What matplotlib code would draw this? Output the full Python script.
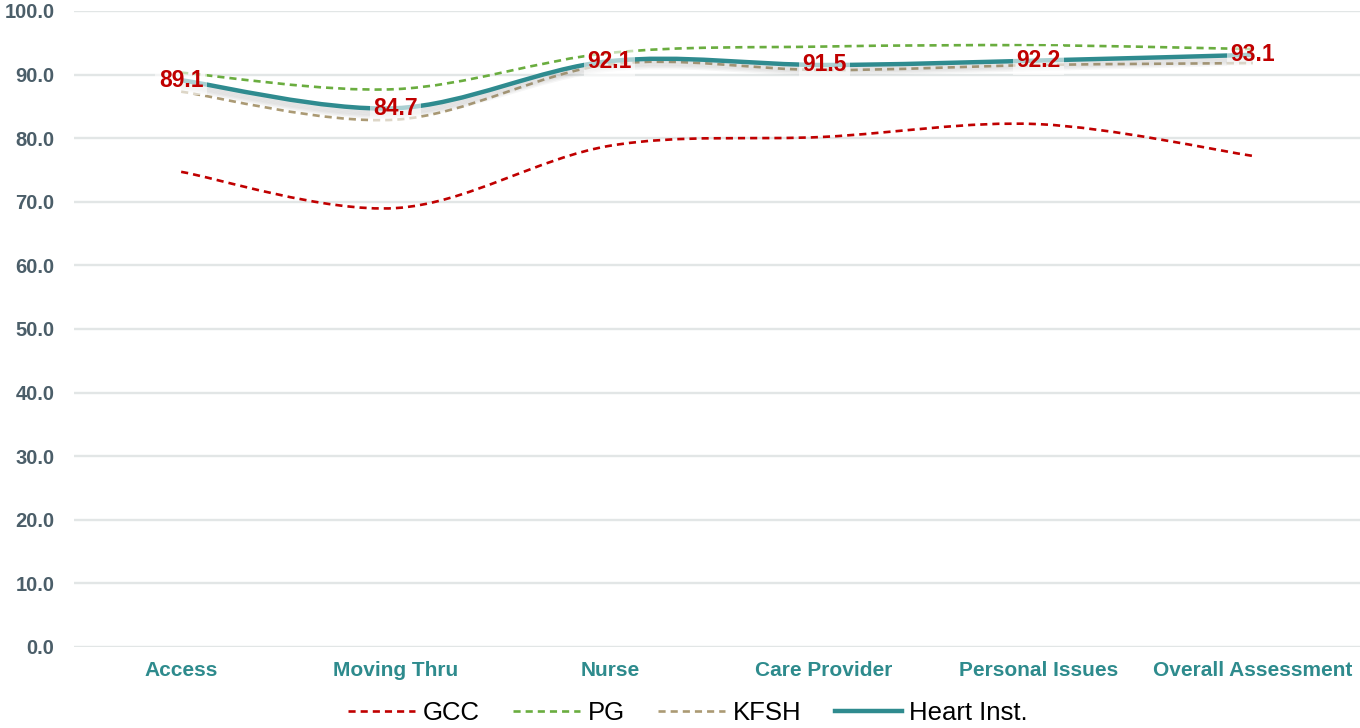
import matplotlib
matplotlib.use("Agg")
import matplotlib.pyplot as plt
from matplotlib.path import Path
from matplotlib.patches import PathPatch
from matplotlib.lines import Line2D
import matplotlib.patheffects as pe
import numpy as np

plt.rcParams['font.family'] = ['Liberation Sans', 'DejaVu Sans']

categories = ['Access', 'Moving Thru', 'Nurse', 'Care Provider',
              'Personal Issues', 'Overall Assessment']
gcc = [74.7, 69.0, 78.8, 80.2, 82.2, 77.2]
pg = [90.3, 87.7, 93.4, 94.4, 94.6, 94.0]
kfsh = [87.3, 82.9, 91.6, 90.7, 91.5, 91.8]
heart = [89.1, 84.7, 92.1, 91.5, 92.2, 93.1]
yticks = np.arange(0, 101, 10)


def smooth_path(xs, ys):
    # cubic bezier through every point (catmull-rom style tangents)
    pts = np.column_stack([xs, ys]).astype(float)
    n = len(pts)
    verts = [pts[0]]
    codes = [Path.MOVETO]
    for i in range(n - 1):
        p0 = pts[max(i - 1, 0)]
        p1 = pts[i]
        p2 = pts[i + 1]
        p3 = pts[min(i + 2, n - 1)]
        c1 = p1 + (p2 - p0) / 6.0
        c2 = p2 - (p3 - p1) / 6.0
        verts += [c1, c2, p2]
        codes += [Path.CURVE4] * 3
    return Path(verts, codes)


fig = plt.figure(figsize=(13.6, 7.28), dpi=100)
ax = fig.add_axes([0.0544, 0.1113, 0.9456, 0.8737])
x = np.arange(len(categories))

ax.set_xlim(-0.5, 5.5)
ax.set_ylim(0, 100)
ax.set_yticks(yticks)
ax.set_yticklabels([f'{v:.1f}' for v in yticks])
ax.set_xticks(x)
ax.set_xticklabels(categories)
for s in ax.spines.values():
    s.set_visible(False)
ax.grid(axis='y', color='#e2e6e6', lw=1.7)
ax.set_axisbelow(True)
ax.tick_params(axis='both', length=0)
ax.tick_params(axis='y', pad=14, labelsize=14.5, labelcolor='#4b5e69')
ax.tick_params(axis='x', pad=10, labelsize=15, labelcolor='#2e8b8d')
for lab in ax.get_xticklabels() + ax.get_yticklabels():
    lab.set_fontweight('bold')

dash = (0, (2.7, 1.9))
series = [
    (gcc, 'GCC', '#c00000', 1.9, dash),
    (pg, 'PG', '#6aad3f', 1.9, dash),
    (kfsh, 'KFSH', '#ab9a74', 1.9, dash),
]
handles = []
for vals, name, col, lw, ls in series:
    ax.add_patch(PathPatch(smooth_path(x, vals), fill=False, edgecolor=col,
                           lw=lw, linestyle=ls, zorder=3))
    handles.append(Line2D([], [], color=col, lw=lw, linestyle=ls, label=name))

heart_col = '#2f8b8f'
shadow = [pe.SimpleLineShadow(offset=(0, -o), shadow_color='#808080',
                              alpha=0.07, rho=1) for o in (1, 2, 3, 4, 5, 6)]
ax.add_patch(PathPatch(smooth_path(x, heart), fill=False, edgecolor=heart_col,
                       lw=3.2, zorder=4,
                       path_effects=shadow + [pe.Normal()]))
handles.append(Line2D([], [], color=heart_col, lw=3.2, label='Heart Inst.'))

for xi, v in zip(x, heart):
    ax.text(xi, v, f'{v:.1f}', ha='center', va='center', fontsize=16.5,
            fontweight='bold', color='#c00000', zorder=6,
            bbox=dict(boxstyle='square,pad=0.15', fc='white', ec='none',
                      alpha=0.6))

fig.legend(handles=handles, loc='center', bbox_to_anchor=(0.506, 0.021),
           ncol=4, frameon=False, fontsize=18.5, handlelength=2.6,
           handletextpad=0.3, columnspacing=1.3)

fig.savefig('out.png', dpi=100)
